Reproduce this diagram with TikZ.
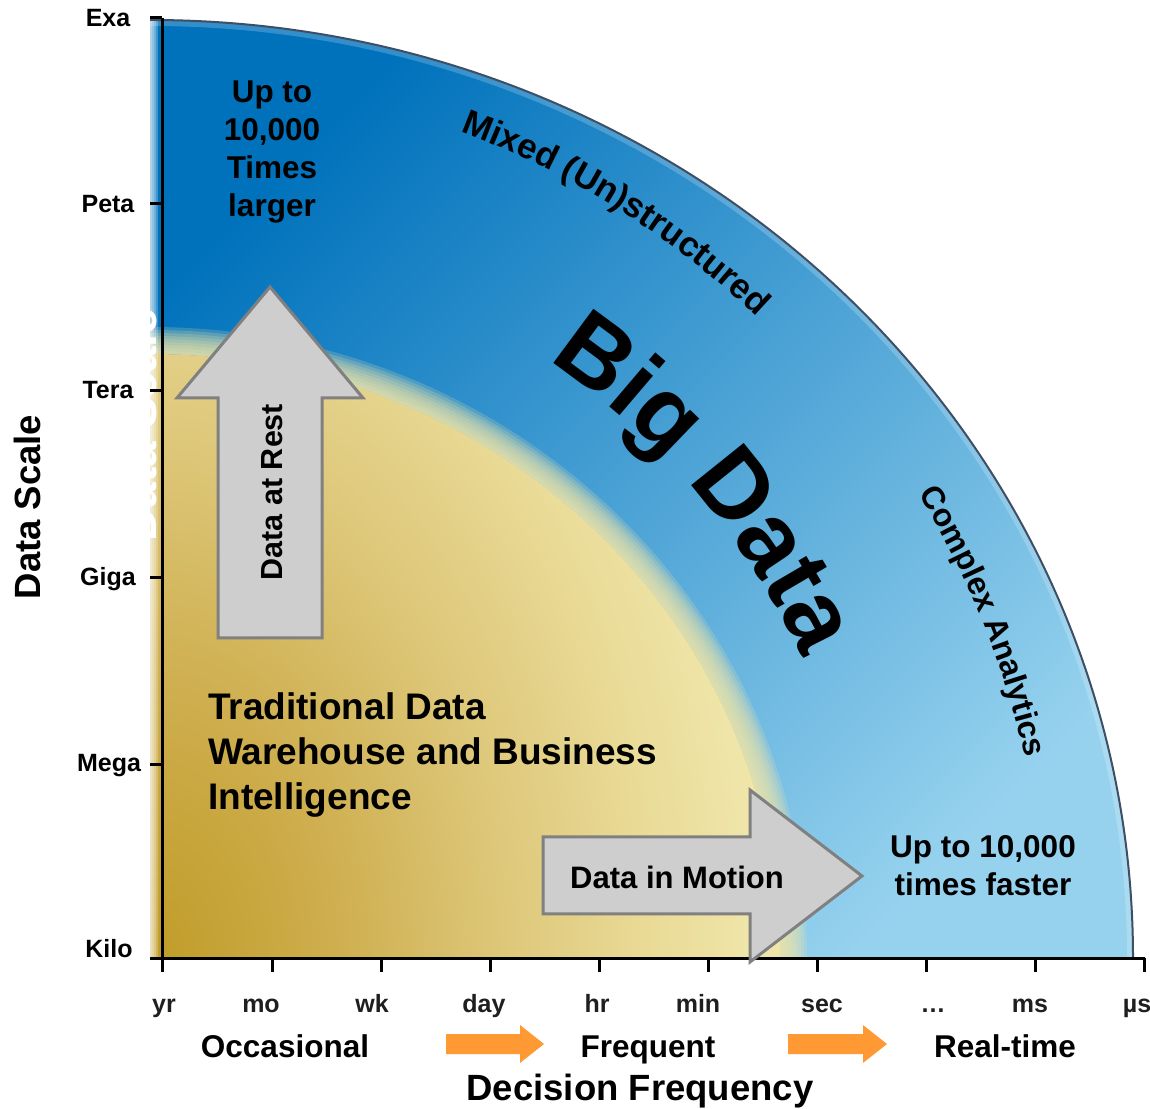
\documentclass[tikz,border=0pt]{standalone}
\usepackage{fontspec}
\setmainfont{Liberation Sans}
\setsansfont{Liberation Sans}
\usepackage{tikz}
\usetikzlibrary{calc,decorations.text}
\pgfdeclarelayer{background}
\pgfsetlayers{background,main}

\definecolor{BlueDeep}{RGB}{0,114,188}
\definecolor{BlueMid}{RGB}{62,146,206}
\definecolor{BluePale}{RGB}{150,210,238}
\definecolor{CoreGold}{RGB}{192,156,40}
\definecolor{CoreOchre}{RGB}{206,174,78}
\definecolor{CoreTan}{RGB}{220,197,118}
\definecolor{CoreSand}{RGB}{233,218,150}
\definecolor{CoreCream}{RGB}{239,229,168}
\definecolor{RimLine}{RGB}{62,78,100}
\definecolor{ArrowFill}{RGB}{206,206,206}
\definecolor{ArrowLine}{RGB}{128,128,128}
\definecolor{StepOrange}{RGB}{255,153,51}

\pgfdeclareradialshading{coreshade}{\pgfpoint{0bp}{0bp}}{color(0bp)=(CoreGold); color(7bp)=(CoreOchre); color(13bp)=(CoreTan); color(19bp)=(CoreSand); color(23bp)=(CoreCream); color(50bp)=(CoreCream)}

\newcommand{\scalefnt}{\fontsize{25}{25}\selectfont\bfseries}
\newcommand{\bandfnt}{\fontsize{31.5}{38}\selectfont\bfseries}
\newcommand{\titlefnt}{\fontsize{37}{45}\selectfont\bfseries}
\newcommand{\arcfnt}{\fontsize{35}{35}\selectfont\bfseries}
\newcommand{\cpxfnt}{\fontsize{32}{32}\selectfont\bfseries}
\newcommand{\bigfnt}{\fontsize{98}{98}\selectfont\bfseries}

\begin{document}
\begin{tikzpicture}[x=1pt,y=1pt]
    \sffamily

    \tikzset{AX/.style={black,line width=3pt}}
    \tikzset{GA/.style={fill=ArrowFill,draw=ArrowLine,line width=3pt,line join=miter}}
    \tikzset{OA/.style={fill=StepOrange}}
    \tikzset{SL/.style={font=\scalefnt,anchor=base,inner sep=0pt}}
    \tikzset{FL/.style={font=\scalefnt,anchor=base,inner sep=0pt,text=black!88}}
    \tikzset{BL/.style={font=\bandfnt,anchor=base,inner sep=0pt}}
    \tikzset{TL/.style={font=\bandfnt,inner sep=0pt,align=center}}

    \useasboundingbox (0,0) rectangle (1150,1108);
    \coordinate (C) at (150,150);

    \begin{pgfonlayer}{background}
        \begin{scope}
            \clip (C) -- ++(983,0) arc[start angle=0,end angle=90,x radius=983,y radius=938] -- cycle;
            \shade[top color=BlueDeep,middle color=BlueMid,bottom color=BluePale,shading angle=45] (C) rectangle ++(983,938);
            \draw[white,opacity=0.2,line width=12pt] (C) ++(983,0) arc[start angle=0,end angle=90,x radius=983,y radius=938];
            \begin{scope}
                \clip (C) ellipse[x radius=630,y radius=604];
                \shade[shading=coreshade] (C) ellipse[x radius=650,y radius=950];
            \end{scope}
            \foreach \k in {3,6,...,27}
                \fill[CoreCream,opacity=0.2,even odd rule] (C) ellipse[x radius=630+\k,y radius=604+\k] (C) ellipse[x radius=630,y radius=604];
            \foreach \k in {0,...,4}
                \fill[white,opacity=0.25] (140,150) rectangle (150+2*\k,1100);
        \end{scope}
        \draw[RimLine,line width=2pt] (C) ++(983,0) arc[start angle=0,end angle=90,x radius=983,y radius=938];
    \end{pgfonlayer}

    \node (ghost) [rotate=90,font=\fontsize{46}{46}\selectfont\bfseries,text=white,inner sep=0pt] at (140,683) {Data Scale};

    \draw[AX] (162,1090) -- (162,136);
    \draw[AX] (150,150) -- (1145,150);
    \foreach \y in {1090,904,717,530,343}
        \draw[AX] (150,\y) -- (162,\y);
    \foreach \i in {1,...,9}
        \draw[AX] (163+109.1*\i,150) -- (163+109.1*\i,136);

    \node (exa)  [SL] at (108,1081) {Exa};
    \node (peta) [SL] at (108,895) {Peta};
    \node (tera) [SL] at (108,709) {Tera};
    \node (giga) [SL] at (108,522) {Giga};
    \node (mega) [SL] at (109,336) {Mega};
    \node (kilo) [SL] at (109,151) {Kilo};
    \node (scale) [rotate=90,font=\fontsize{36.5}{36.5}\selectfont\bfseries,inner sep=0pt] at (27,601) {Data Scale};

    \node (yr)  [FL] at (164,96) {yr};
    \node (mo)  [FL] at (261,96) {mo};
    \node (wk)  [FL] at (372,96) {wk};
    \node (day) [FL] at (484,96) {day};
    \node (hr)  [FL] at (597,96) {hr};
    \node (min) [FL] at (698,96) {min};
    \node (sec) [FL] at (822,96) {sec};
    \node (dots) [FL] at (933,96) {…};
    \node (ms)  [FL] at (1030,96) {ms};
    \node (mus) [FL] at (1137,96) {µs};

    \node (occ)  [BL] at (285,51) {Occasional};
    \node (freq) [BL] at (648,51) {Frequent};
    \node (real) [BL] at (1005,51) {Real-time};
    \fill[OA] (446,74) -- (520,74) -- (520,83) -- (544,64) -- (520,45) -- (520,54) -- (446,54) -- cycle;
    \fill[OA] (788,74) -- (863,74) -- (863,83) -- (887,64) -- (863,45) -- (863,54) -- (788,54) -- cycle;
    \node (decision) [font=\fontsize{36.5}{36.5}\selectfont\bfseries,anchor=base,inner sep=0pt] at (640,8) {Decision Frequency};

    \draw[GA] (218,470) -- (218,710) -- (177,710) -- (270,821) -- (363,710) -- (322,710) -- (322,470) -- cycle;
    \node (rest) [rotate=90,font=\fontsize{30.5}{30.5}\selectfont\bfseries,inner sep=0pt] at (272,616) {Data at Rest};
    \draw[GA] (543,194) -- (543,271) -- (750,271) -- (750,318) -- (862,232) -- (750,146) -- (750,194) -- cycle;
    \node (motion) [font=\fontsize{31}{31}\selectfont\bfseries,inner sep=0pt] at (677,231) {Data in Motion};

    \node (larger) [TL] at (272,956) {Up to\\10,000\\Times\\larger};
    \node (faster) [TL] at (983,242) {Up to 10,000\\times faster};
    \node (dwh) [font=\titlefnt,inner sep=0pt,align=left,anchor=west] at (208,353) {Traditional Data\\Warehouse and Business\\Intelligence};

    \path[decorate,decoration={text along path,text align=center,text={|\arcfnt|Mixed (Un)structured}}] (C) ++(85:883) arc[start angle=85,end angle=31,radius=883];
    \path[decorate,decoration={text along path,text align=center,text={|\cpxfnt|Complex Analytics}}] (C) ++(45:898) arc[start angle=45,end angle=-1,radius=898];
    \path[decorate,decoration={text along path,text align=center,text={|\bigfnt|Big Data}}] (C) ++(80:718) arc[start angle=80,end angle=1,radius=718];
\end{tikzpicture}
\end{document}
